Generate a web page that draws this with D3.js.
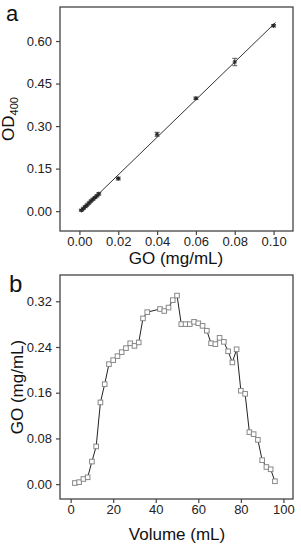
<!DOCTYPE html>
<html>
<head>
<meta charset="utf-8">
<script src="https://cdn.jsdelivr.net/npm/d3@7"></script>
<style>
  body { margin: 0; background: #fff; }
  svg { display: block; font-family: "Liberation Sans", Arial, sans-serif; }
  .tick text { font-size: 13px; fill: #222; }
  .tick line { stroke: #444; stroke-width: 1.2; }
</style>
</head>
<body>
<div id="chart"></div>
<script>
// panel a: calibration (OD400 vs GO)
const calX = [0.001, 0.002, 0.003, 0.004, 0.005, 0.006, 0.007, 0.008, 0.009, 0.010, 0.02, 0.04, 0.06, 0.08, 0.10];
const calY = [0.003, 0.009, 0.016, 0.022, 0.029, 0.036, 0.042, 0.048, 0.054, 0.061, 0.115, 0.271, 0.398, 0.526, 0.654];
const calErr = [0.003, 0.003, 0.003, 0.003, 0.003, 0.003, 0.003, 0.003, 0.003, 0.004, 0.005, 0.007, 0.004, 0.013, 0.004];
const calXTicks = [0, 0.02, 0.04, 0.06, 0.08, 0.10];
const calYTicks = [0, 0.15, 0.30, 0.45, 0.60];

// panel b: elution profile (GO vs volume)
const volX = [2, 4, 6, 8, 10, 12, 14, 16, 18, 20, 22, 24, 26, 28, 30, 32, 34, 36,
              42, 44, 46, 48, 50, 52, 54, 56, 58, 60, 62, 64, 66, 68, 70, 72, 74, 76, 78,
              80, 82, 84, 86, 88, 90, 92, 94, 96];
const goY = [0.002, 0.0035, 0.009, 0.012, 0.0395, 0.066, 0.143, 0.175, 0.21, 0.217, 0.224, 0.231, 0.238, 0.2465, 0.242, 0.248, 0.29, 0.301,
             0.3065, 0.303, 0.309, 0.322, 0.330, 0.280, 0.280, 0.280, 0.284, 0.2815, 0.277, 0.2685, 0.2465, 0.245, 0.256, 0.249, 0.2325, 0.213, 0.236,
             0.1635, 0.158, 0.091, 0.0875, 0.0775, 0.042, 0.030, 0.026, 0.005];
const volXTicks = [0, 20, 40, 60, 80, 100];
const goYTicks = [0, 0.08, 0.16, 0.24, 0.32];

const W = 301, H = 550;
const svg = d3.select('#chart').append('svg').attr('width', W).attr('height', H);

function frame(g, x0, y0, x1, y1) {
    g.append('rect')
        .attr('x', x0).attr('y', y0)
        .attr('width', x1 - x0).attr('height', y1 - y0)
        .attr('fill', 'none').attr('stroke', '#444').attr('stroke-width', 1.3);
}

function axes(x, y, xt, yt, fmtX, fmtY, bottom, left) {
    const gx = svg.append('g').attr('transform', 'translate(0,' + bottom + ')')
        .call(d3.axisBottom(x).tickValues(xt).tickFormat(fmtX).tickSize(4).tickSizeOuter(0).tickPadding(2));
    gx.select('.domain').remove();
    const gy = svg.append('g').attr('transform', 'translate(' + left + ',0)')
        .call(d3.axisLeft(y).tickValues(yt).tickFormat(fmtY).tickSize(4).tickSizeOuter(0).tickPadding(4));
    gy.select('.domain').remove();
}

// ---------- panel a ----------
const ax = d3.scaleLinear().domain([-0.01, 0.11]).range([60, 293]);
const ay = d3.scaleLinear().domain([-0.07, 0.72]).range([231, 7]);

axes(ax, ay, calXTicks, calYTicks, d3.format('.2f'), d3.format('.2f'), 231, 60);

// least squares fit of the calibration points
const n = calX.length;
const mx = d3.mean(calX), my = d3.mean(calY);
const slope = d3.sum(calX, (v, i) => (v - mx) * (calY[i] - my)) / d3.sum(calX, v => (v - mx) * (v - mx));
const icpt = my - slope * mx;
const fitX = [calX[0], calX[n - 1] + 0.001];
svg.append('path')
    .attr('d', d3.line().x(d => ax(d)).y(d => ay(slope * d + icpt))(fitX))
    .attr('stroke', '#333').attr('stroke-width', 1).attr('fill', 'none');

const pa = svg.append('g').selectAll('g').data(calX).enter().append('g')
    .attr('transform', (d, i) => 'translate(' + ax(d) + ',' + ay(calY[i]) + ')');
pa.append('path')
    .attr('d', (d, i) => {
        const e = ay(0) - ay(calErr[i]);
        return 'M0,' + (-e) + 'V' + e + 'M-2.5,' + (-e) + 'H2.5M-2.5,' + e + 'H2.5';
    })
    .attr('stroke', '#333').attr('stroke-width', 0.8).attr('fill', 'none');
pa.append('path')
    .attr('d', 'M-2.2,0H2.2M0,-2.2V2.2M-1.6,-1.6L1.6,1.6M-1.6,1.6L1.6,-1.6')
    .attr('stroke', '#222').attr('stroke-width', 1);

frame(svg, 60, 7, 293, 231);

svg.append('text').attr('x', 6).attr('y', 21)
    .attr('font-size', 22).attr('fill', '#111').text('a');

svg.append('text').attr('x', 176).attr('y', 264)
    .attr('text-anchor', 'middle').attr('font-size', 17).attr('fill', '#111')
    .text('GO (mg/mL)');

const ytA = svg.append('text')
    .attr('transform', 'translate(14,119) rotate(-90)')
    .attr('text-anchor', 'middle').attr('font-size', 17).attr('fill', '#111');
ytA.append('tspan').text('OD');
ytA.append('tspan').attr('font-size', 11).attr('dy', 4).text('400');

// ---------- panel b ----------
const bx = d3.scaleLinear().domain([-5, 104.5]).range([60, 293]);
const by = d3.scaleLinear().domain([-0.026, 0.366]).range([499, 275]);

axes(bx, by, volXTicks, goYTicks, d3.format('d'), d3.format('.2f'), 499, 60);

svg.append('path')
    .attr('d', d3.line().x(d => bx(d)).y((d, i) => by(goY[i]))(volX))
    .attr('stroke', '#222').attr('stroke-width', 1).attr('fill', 'none');

svg.append('g').selectAll('rect').data(volX).enter().append('rect')
    .attr('x', d => bx(d) - 2.3)
    .attr('y', (d, i) => by(goY[i]) - 2.3)
    .attr('width', 4.6).attr('height', 4.6)
    .attr('fill', '#fff').attr('stroke', '#888').attr('stroke-width', 1);

frame(svg, 60, 275, 293, 499);

svg.append('text').attr('x', 9).attr('y', 292)
    .attr('font-size', 24).attr('fill', '#111').text('b');

svg.append('text').attr('x', 177).attr('y', 540)
    .attr('text-anchor', 'middle').attr('font-size', 17).attr('fill', '#111')
    .text('Volume (mL)');

svg.append('text')
    .attr('transform', 'translate(23,387) rotate(-90)')
    .attr('text-anchor', 'middle').attr('font-size', 17).attr('fill', '#111')
    .text('GO (mg/mL)');
</script>
</body>
</html>
